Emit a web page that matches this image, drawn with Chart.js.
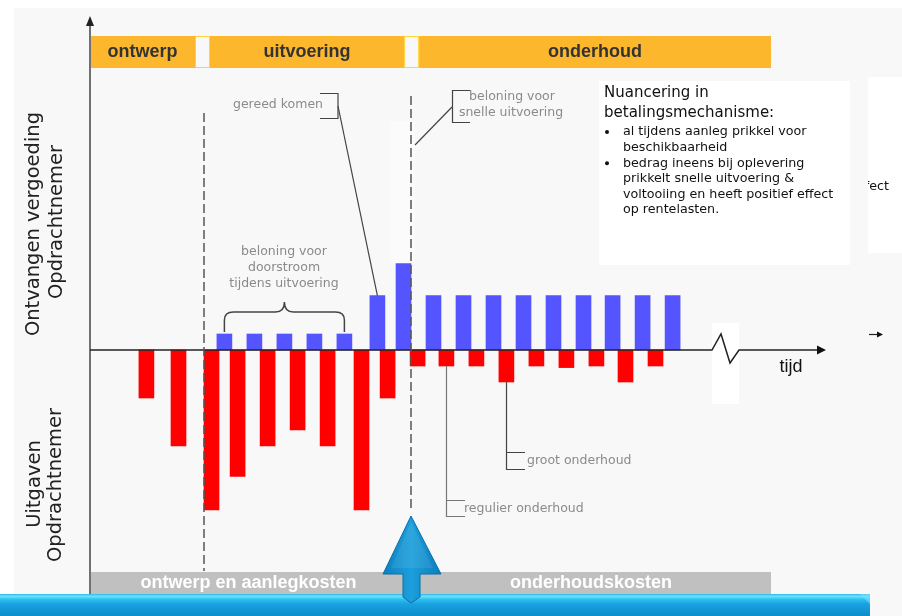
<!DOCTYPE html>
<html><head><meta charset="utf-8">
<script src="https://cdn.jsdelivr.net/npm/chart.js@4/dist/chart.umd.min.js"></script>
<style>html,body{margin:0;padding:0;background:#fff;}canvas{display:block;}</style>
</head><body>
<canvas id="c" width="902" height="616"></canvas>
<script>
// ---- data (time in periods, amounts in units) ----
const phaseLabels = ['ontwerp', 'uitvoering', 'onderhoud'];
const phaseStart = [0, 4.0, 10.97];
const phaseEnd = [3.5, 10.47, 22.7];
const costLabels = ['ontwerp en aanlegkosten', 'onderhoudskosten'];
const costStart = [0, 10.7];
const costEnd = [10.7, 22.7];
const phaseBoundaries = [3.8, 10.7];

const expenseX = [1.88, 2.95, 4.05, 4.92, 5.92, 6.92, 7.92, 9.05, 9.92, 10.92, 11.88, 12.88, 13.88, 14.88, 15.88, 16.88, 17.85, 18.85];
const expenseY = [-3, -6, -10, -7.9, -6, -5, -6, -10, -3, -1, -1, -1, -2, -1, -1.1, -1, -2, -1];
const paymentX = [4.48, 5.48, 6.48, 7.48, 8.48, 9.58, 10.45, 11.45, 12.45, 13.45, 14.45, 15.45, 16.45, 17.42, 18.42, 19.42];
const paymentY = [1, 1, 1, 1, 1, 3.4, 5.4, 3.4, 3.4, 3.4, 3.4, 3.4, 3.4, 3.4, 3.4, 3.4];

const yTitleTop = ['Ontvangen vergoeding', 'Opdrachtnemer'];
const yTitleBottom = ['Uitgaven', 'Opdrachtnemer'];
const xTitle = 'tijd';
const boxTitle = ['Nuancering in', 'betalingsmechanisme:'];
const boxBullets = [['al tijdens aanleg prikkel voor', 'beschikbaarheid'],
                    ['bedrag ineens bij oplevering', 'prikkelt snelle uitvoering &', 'voltooiing en heeft positief effect', 'op rentelasten.']];

const overlay = {
  id: 'overlay',
  beforeDraw(chart) {
    const c = chart.ctx, xs = chart.scales.x, ys = chart.scales.y;
    const px = v => xs.getPixelForValue(v), py = v => ys.getPixelForValue(v);
    c.save();
    c.fillStyle = '#ffffff'; c.fillRect(0, 0, 902, 616);
    c.fillStyle = '#f8f8f8'; c.fillRect(14, 8, 888, 608);
    // faint hidden column
    c.fillStyle = '#fbfbfb'; c.fillRect(390, 121, 25, 142);
    // phase bar
    c.fillStyle = '#fcb72c';
    c.fillRect(px(0) + 1, 36, px(phaseEnd[2]) - px(0) - 1, 32);
    for (let i = 0; i < phaseStart.length - 1; i++) {
      const a = px(phaseEnd[i]), b = px(phaseStart[i + 1]);
      c.fillStyle = '#f8f8f8'; c.fillRect(a, 36, b - a, 32);
      c.strokeStyle = '#ffd23a'; c.lineWidth = 1; c.strokeRect(a + 0.5, 36.5, b - a - 1, 31);
    }
    c.fillStyle = '#333'; c.font = 'bold 18px "Liberation Sans", Arial, sans-serif';
    c.textAlign = 'center'; c.textBaseline = 'middle';
    phaseLabels.forEach((t, i) => c.fillText(t, (px(phaseStart[i]) + px(phaseEnd[i])) / 2, 52));
    // y titles
    c.fillStyle = '#222'; c.font = '19.5px "DejaVu Sans", sans-serif';
    c.save(); c.translate(34, 224); c.rotate(-Math.PI / 2); c.fillText(yTitleTop[0], 0, 0); c.restore();
    c.save(); c.translate(57, 222); c.rotate(-Math.PI / 2); c.fillText(yTitleTop[1], 0, 0); c.restore();
    c.save(); c.translate(35, 484); c.rotate(-Math.PI / 2); c.fillText(yTitleBottom[0], 0, 0); c.restore();
    c.save(); c.translate(56, 485); c.rotate(-Math.PI / 2); c.fillText(yTitleBottom[1], 0, 0); c.restore();
    // cost bar
    c.fillStyle = '#c0c0c0';
    c.fillRect(px(costStart[0]) + 1, 572, px(costEnd[1]) - px(costStart[0]) - 1, 23);
    c.fillStyle = '#ffffff'; c.font = 'bold 18px "Liberation Sans", Arial, sans-serif';
    costLabels.forEach((t, i) => c.fillText(t, (px(costStart[i]) + px(costEnd[i])) / 2 - (i ? 0 : 2), 583));
    // y axis
    c.strokeStyle = '#444'; c.lineWidth = 1.5;
    c.beginPath(); c.moveTo(px(0), 595); c.lineTo(px(0), 25); c.stroke();
    c.fillStyle = '#222';
    c.beginPath(); c.moveTo(px(0), 16); c.lineTo(px(0) - 4, 26); c.lineTo(px(0) + 4, 26); c.closePath(); c.fill();
    c.restore();
  },
  afterDatasetsDraw(chart) {
    const c = chart.ctx, xs = chart.scales.x, ys = chart.scales.y;
    const px = v => xs.getPixelForValue(v), py = v => ys.getPixelForValue(v);
    const y0 = py(0);
    c.save();
    // x axis with break
    c.fillStyle = '#ffffff'; c.fillRect(712, 323, 27, 81);
    c.strokeStyle = '#222'; c.lineWidth = 1.5;
    c.beginPath(); c.moveTo(px(0), y0); c.lineTo(712, y0); c.lineTo(721, 334); c.lineTo(730, 363); c.lineTo(739, y0); c.lineTo(818, y0); c.stroke();
    c.fillStyle = '#111';
    c.beginPath(); c.moveTo(826, y0); c.lineTo(817, y0 - 4.5); c.lineTo(817, y0 + 4.5); c.closePath(); c.fill();
    c.font = '18px "Liberation Sans", Arial, sans-serif'; c.textAlign = 'center'; c.textBaseline = 'middle';
    c.fillText(xTitle, 791, 367);
    // small arrow on the right
    c.lineWidth = 1.2; c.beginPath(); c.moveTo(869, 334.5); c.lineTo(878, 334.5); c.stroke();
    c.beginPath(); c.moveTo(883, 334.5); c.lineTo(877, 331.5); c.lineTo(877, 337.5); c.closePath(); c.fill();
    // dashed phase lines
    c.strokeStyle = '#555'; c.lineWidth = 1.5; c.setLineDash([9, 4]);
    c.beginPath(); c.moveTo(px(phaseBoundaries[0]), 113); c.lineTo(px(phaseBoundaries[0]), 571); c.stroke();
    c.beginPath(); c.moveTo(px(phaseBoundaries[1]), 96); c.lineTo(px(phaseBoundaries[1]), 512); c.stroke();
    c.setLineDash([]);
    // brace over small payments
    const L = px(paymentX[0]), R = px(paymentX[4]), C = (L + R) / 2, yb = py(paymentY[0]) - 2;
    c.strokeStyle = '#444'; c.lineWidth = 1.5;
    c.beginPath();
    c.moveTo(L, yb); c.lineTo(L, yb - 12); c.quadraticCurveTo(L, yb - 20, L + 9, yb - 20);
    c.lineTo(C - 9, yb - 20); c.quadraticCurveTo(C, yb - 20, C, yb - 30);
    c.quadraticCurveTo(C, yb - 20, C + 9, yb - 20); c.lineTo(R - 9, yb - 20);
    c.quadraticCurveTo(R, yb - 20, R, yb - 12); c.lineTo(R, yb);
    c.stroke();
    // annotations text
    c.fillStyle = '#8a8a8a'; c.font = '12.5px "DejaVu Sans", sans-serif';
    c.fillText('beloning voor', 284, 252);
    c.fillText('doorstroom', 284, 268);
    c.fillText('tijdens uitvoering', 284, 284);
    c.fillText('gereed komen', 278, 105);
    c.fillText('beloning voor', 512, 97);
    c.fillText('snelle uitvoering', 511, 113);
    c.textAlign = 'left';
    c.fillText('groot onderhoud', 527, 461);
    c.fillText('regulier onderhoud', 464, 509);
    // pointer lines
    c.strokeStyle = '#444'; c.lineWidth = 1.2;
    c.beginPath(); c.moveTo(320, 93.5); c.lineTo(338, 93.5); c.lineTo(338, 118.5); c.lineTo(320, 118.5); c.stroke();
    c.beginPath(); c.moveTo(338, 106); c.lineTo(px(paymentX[5]), py(paymentY[5])); c.stroke();
    c.beginPath(); c.moveTo(470, 90.5); c.lineTo(452.5, 90.5); c.lineTo(452.5, 122.5); c.lineTo(470, 122.5); c.stroke();
    c.beginPath(); c.moveTo(452, 107); c.lineTo(415, 145); c.stroke();
    const gx = Math.round(px(expenseX[12])) + 0.5;
    c.beginPath(); c.moveTo(gx, py(expenseY[12])); c.lineTo(gx, 469.5); c.lineTo(525, 469.5); c.moveTo(gx, 452.5); c.lineTo(525, 452.5); c.stroke();
    const rx = Math.round(px(expenseX[10])) + 0.5;
    c.strokeStyle = '#777';
    c.beginPath(); c.moveTo(rx, py(expenseY[10])); c.lineTo(rx, 516.5); c.lineTo(465, 516.5); c.moveTo(rx, 500.5); c.lineTo(465, 500.5); c.stroke();
    // text box
    c.fillStyle = '#ffffff'; c.fillRect(599, 81, 251, 184);
    c.fillRect(868, 77, 34, 176);
    c.fillStyle = '#111'; c.textBaseline = 'middle'; c.textAlign = 'left';
    c.font = '15px "DejaVu Sans", sans-serif';
    c.fillText(boxTitle[0], 604, 93);
    c.fillText(boxTitle[1], 604, 113);
    c.font = '12.7px "DejaVu Sans", sans-serif';
    let yy = 132;
    boxBullets.forEach(lines => {
      c.beginPath(); c.arc(607, yy, 2, 0, Math.PI * 2); c.fill();
      lines.forEach(l => { c.fillText(l, 623, yy); yy += 15.6; });
    });
    c.save(); c.beginPath(); c.rect(868, 77, 34, 176); c.clip();
    c.textAlign = 'right'; c.fillText('positief effect', 889, 187);
    c.restore();
    // blue banner
    let g = c.createLinearGradient(0, 594, 0, 616);
    g.addColorStop(0, '#2fb6ea'); g.addColorStop(0.1, '#6ee3ff'); g.addColorStop(0.25, '#2cc0f2');
    g.addColorStop(0.45, '#1aa2df'); g.addColorStop(1, '#0d8dcc');
    c.fillStyle = g; c.fillRect(0, 594, 870, 22);
    c.fillStyle = 'rgba(120,220,255,0.6)';
    c.beginPath(); c.moveTo(860, 594); c.lineTo(870, 594); c.lineTo(870, 604); c.closePath(); c.fill();
    // blue up arrow
    const ax = px(phaseBoundaries[1]);
    g = c.createLinearGradient(ax - 30, 0, ax + 30, 0);
    g.addColorStop(0, '#0b7ebf'); g.addColorStop(0.5, '#1c9fdc'); g.addColorStop(1, '#0b7ebf');
    c.fillStyle = g; c.strokeStyle = '#0a6fa6'; c.lineWidth = 1;
    c.beginPath();
    c.moveTo(ax, 516); c.lineTo(ax + 30, 574); c.lineTo(ax + 9, 574); c.lineTo(ax + 9, 597);
    c.lineTo(ax, 603); c.lineTo(ax - 8, 597); c.lineTo(ax - 8, 574); c.lineTo(ax - 28, 574); c.closePath();
    c.fill(); c.stroke();
    c.fillStyle = 'rgba(255,255,255,0.08)';
    c.beginPath(); c.moveTo(ax, 522); c.lineTo(ax + 22, 568); c.lineTo(ax - 20, 568); c.closePath(); c.fill();
    c.restore();
  }
};

new Chart(document.getElementById('c'), {
  type: 'bar',
  data: {
    datasets: [
      { label: 'Uitgaven Opdrachtnemer', data: expenseX.map((x, i) => ({ x, y: expenseY[i] })),
        backgroundColor: '#ff0000', barThickness: 15, grouped: false, borderWidth: 0 },
      { label: 'Ontvangen vergoeding Opdrachtnemer', data: paymentX.map((x, i) => ({ x, y: paymentY[i] })),
        backgroundColor: '#5555ff', barThickness: 15, grouped: false, borderWidth: 0 }
    ]
  },
  options: {
    responsive: false, animation: false, devicePixelRatio: 1,
    layout: { padding: { left: 90, right: 77, top: 18, bottom: 22 } },
    plugins: { legend: { display: false }, tooltip: { enabled: false } },
    scales: {
      x: { type: 'linear', min: 0, max: 24.5, offset: false, display: false },
      y: { min: -15.25, max: 20.75, display: false }
    }
  },
  plugins: [overlay]
});
</script>
</body></html>
